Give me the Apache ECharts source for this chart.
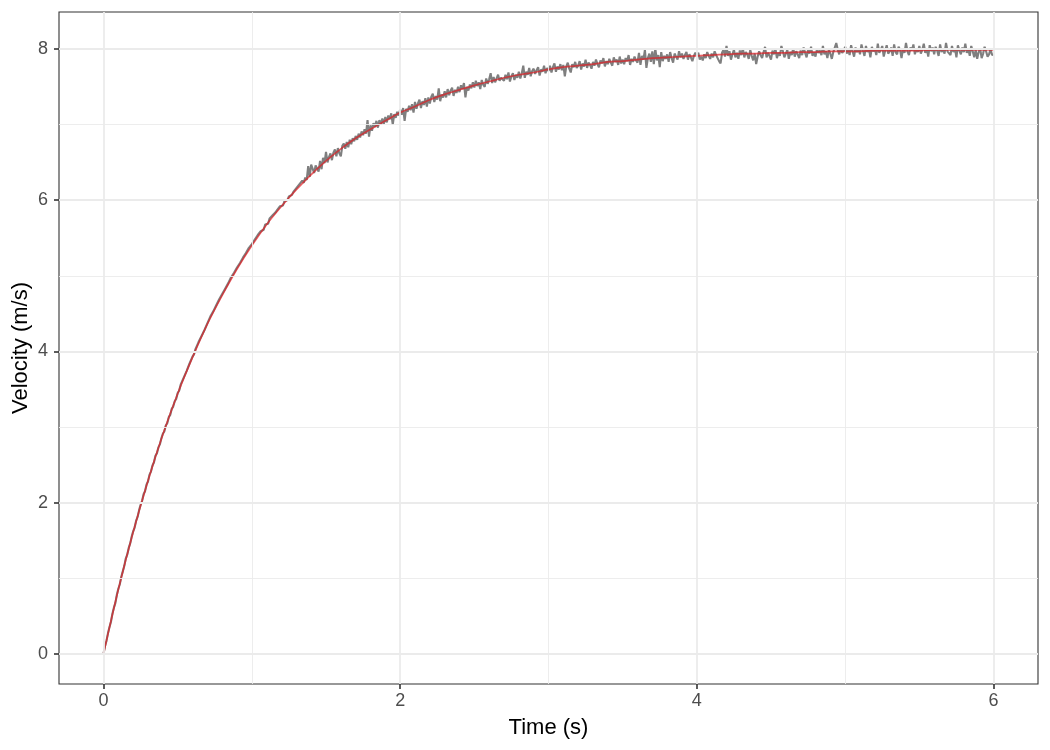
<!DOCTYPE html>
<html>
<head>
<meta charset="utf-8">
<title>Velocity</title>
<script src="https://cdn.jsdelivr.net/npm/echarts@6/dist/echarts.min.js"></script>
<style>
  html, body { margin: 0; padding: 0; background: #fff; }
  #chart { width: 1050px; height: 750px; }
</style>
</head>
<body>
<div id="chart"></div>
<script>
// axis ticks / grid
const xTicks = [0, 2, 4, 6]
const yTicks = [0, 2, 4, 6, 8]
const xMinor = [1, 3, 5]
const yMinor = [1, 3, 5, 7]

// measured velocity, one value every 0.01 s (one row = 0.1 s)
const rawStep = 0.01
const rawVelocity = [
  0.00, 0.10, 0.17, 0.27, 0.35, 0.42, 0.53, 0.61, 0.67, 0.78,
  0.86, 0.92, 1.02, 1.09, 1.16, 1.26, 1.31, 1.40, 1.46, 1.55,
  1.62, 1.67, 1.76, 1.81, 1.90, 1.97, 2.02, 2.11, 2.15, 2.24,
  2.28, 2.37, 2.41, 2.49, 2.53, 2.62, 2.65, 2.73, 2.77, 2.85,
  2.91, 2.94, 3.02, 3.05, 3.13, 3.16, 3.24, 3.27, 3.34, 3.37,
  3.45, 3.48, 3.56, 3.57, 3.65, 3.67, 3.74, 3.76, 3.84, 3.86,
  3.93, 3.96, 4.03, 4.04, 4.12, 4.13, 4.20, 4.21, 4.28, 4.30,
  4.37, 4.39, 4.46, 4.45, 4.53, 4.54, 4.61, 4.62, 4.69, 4.70,
  4.76, 4.77, 4.83, 4.84, 4.90, 4.91, 4.98, 4.97, 5.04, 5.05,
  5.11, 5.10, 5.17, 5.16, 5.24, 5.23, 5.30, 5.29, 5.37, 5.35,
  5.42, 5.41, 5.48, 5.46, 5.54, 5.52, 5.59, 5.60, 5.61, 5.68,
  5.70, 5.69, 5.76, 5.74, 5.80, 5.79, 5.84, 5.87, 5.86, 5.92,
  5.94, 5.93, 5.99, 6.00, 6.00, 6.05, 6.05, 6.07, 6.11, 6.11,
  6.16, 6.15, 6.21, 6.19, 6.26, 6.23, 6.30, 6.27, 6.45, 6.31,
  6.47, 6.49, 6.36, 6.46, 6.44, 6.38, 6.52, 6.41, 6.56, 6.49,
  6.64, 6.50, 6.57, 6.62, 6.53, 6.63, 6.67, 6.58, 6.69, 6.62,
  6.58, 6.72, 6.75, 6.68, 6.77, 6.70, 6.80, 6.74, 6.82, 6.78,
  6.85, 6.80, 6.88, 6.83, 6.91, 6.86, 6.94, 6.88, 7.06, 6.84,
  6.99, 6.92, 7.02, 6.97, 7.05, 6.96, 7.06, 7.00, 7.08, 7.01,
  7.10, 7.03, 7.12, 7.07, 7.15, 7.00, 7.14, 7.09, 7.17, 7.12,
  7.20, 7.13, 7.22, 7.05, 7.21, 7.17, 7.25, 7.19, 7.27, 7.16,
  7.30, 7.21, 7.28, 7.33, 7.22, 7.31, 7.26, 7.35, 7.24, 7.36,
  7.28, 7.37, 7.41, 7.30, 7.38, 7.33, 7.48, 7.31, 7.40, 7.36,
  7.44, 7.36, 7.47, 7.39, 7.45, 7.49, 7.38, 7.46, 7.42, 7.50,
  7.43, 7.52, 7.47, 7.55, 7.36, 7.50, 7.45, 7.53, 7.48, 7.56,
  7.49, 7.58, 7.51, 7.56, 7.47, 7.59, 7.53, 7.50, 7.61, 7.54,
  7.60, 7.68, 7.55, 7.63, 7.56, 7.54, 7.66, 7.58, 7.62, 7.64,
  7.58, 7.66, 7.60, 7.69, 7.57, 7.64, 7.68, 7.59, 7.66, 7.62,
  7.70, 7.61, 7.68, 7.78, 7.62, 7.70, 7.66, 7.75, 7.64, 7.71,
  7.74, 7.67, 7.72, 7.76, 7.65, 7.73, 7.70, 7.78, 7.68, 7.75,
  7.71, 7.78, 7.69, 7.76, 7.81, 7.70, 7.77, 7.73, 7.80, 7.72,
  7.79, 7.64, 7.77, 7.82, 7.74, 7.69, 7.80, 7.76, 7.83, 7.75,
  7.78, 7.84, 7.73, 7.81, 7.77, 7.86, 7.75, 7.82, 7.79, 7.74,
  7.83, 7.78, 7.86, 7.80, 7.76, 7.85, 7.81, 7.88, 7.77, 7.84,
  7.80, 7.87, 7.82, 7.78, 7.89, 7.83, 7.86, 7.79, 7.90, 7.81,
  7.86, 7.80, 7.88, 7.84, 7.92, 7.79, 7.87, 7.83, 7.90, 7.85,
  7.82, 7.95, 7.79, 7.91, 7.86, 7.99, 7.75, 7.88, 7.94, 7.83,
  7.97, 7.80, 8.01, 7.85, 7.92, 7.76, 7.96, 7.84, 7.91, 7.87,
  7.93, 7.83, 7.96, 7.88, 7.82, 7.94, 7.90, 7.86, 7.97, 7.89,
  7.94, 7.87, 7.92, 7.96, 7.86, 7.93, 7.89, 7.84, 7.91, 7.95,
  7.92, 7.95, 7.86, 7.90, 7.85, 7.93, 7.88, 7.96, 7.91, 7.87,
  7.94, 7.89, 7.97, 7.92, 7.88, 7.84, 7.81, 7.95, 7.99, 7.90,
  8.04, 7.91, 7.97, 7.86, 7.93, 7.99, 7.89, 7.95, 7.87, 7.98,
  7.92, 8.01, 7.89, 7.96, 7.93, 7.87, 7.99, 7.91, 7.85, 7.94,
  7.80, 7.90, 7.97, 7.92, 7.88, 7.96, 8.03, 7.89, 7.95, 7.91,
  7.86, 7.98, 7.93, 8.00, 7.88, 7.95, 7.91, 8.04, 7.97, 7.89,
  7.94, 7.99, 7.87, 7.96, 7.92, 8.01, 7.90, 7.97, 7.93, 7.88,
  7.98, 7.92, 8.02, 7.95, 7.89, 7.99, 7.94, 8.03, 7.91, 7.96,
  7.90, 8.00, 7.95, 7.98, 7.92, 8.04, 7.93, 7.97, 7.88, 7.99,
  7.94, 7.87, 7.96, 8.02, 8.08, 7.99, 7.93, 8.01, 7.95, 7.98,
  8.03, 7.94, 7.99, 7.92, 8.05, 7.97, 7.90, 8.02, 7.96, 8.00,
  7.93, 8.06, 7.98, 7.91, 8.04, 7.96, 8.01, 7.89, 8.03, 7.97,
  8.00, 7.92, 8.07, 7.95, 7.99, 8.04, 7.90, 7.98, 8.05, 7.94,
  7.97, 8.02, 7.91, 8.06, 7.96, 7.93, 8.03, 7.99, 7.88, 8.01,
  7.95, 8.08, 7.97, 7.92, 8.02, 7.98, 8.06, 7.93, 8.00, 7.96,
  8.04, 7.94, 7.99, 8.07, 7.95, 8.01, 7.90, 8.05, 7.97, 8.02,
  7.93, 8.03, 7.98, 7.91, 8.06, 7.96, 8.00, 7.94, 8.08, 7.97,
  7.99, 7.92, 8.04, 7.96, 8.01, 7.89, 8.05, 7.98, 7.93, 8.02,
  7.96, 8.07, 7.95, 8.00, 7.91, 8.04, 7.97, 7.89, 7.99, 7.87,
  7.96, 8.01, 7.88, 7.94, 8.03, 7.97, 7.90, 7.93, 8.00, 7.92,
  7.93
]

// fitted curve, one value every 0.1 s
const fitStep = 0.1
const fitVelocity = [
  0.00, 0.85, 1.61, 2.29, 2.90, 3.44, 3.92, 4.36, 4.74, 5.09,
  5.40, 5.68, 5.92, 6.14, 6.34, 6.52, 6.68, 6.82, 6.94, 7.05,
  7.16, 7.24, 7.33, 7.40, 7.46, 7.52, 7.57, 7.62, 7.66, 7.69,
  7.73, 7.76, 7.78, 7.80, 7.83, 7.84, 7.86, 7.88, 7.89, 7.90,
  7.91, 7.92, 7.93, 7.94, 7.94, 7.95, 7.95, 7.96, 7.96, 7.97,
  7.97, 7.97, 7.98, 7.98, 7.98, 7.98, 7.99, 7.99, 7.99, 7.99,
  7.99
]

const rawData = rawVelocity.map((v, i) => [+(i * rawStep).toFixed(2), v])
const fitData = fitVelocity.map((v, i) => [+(i * fitStep).toFixed(1), v])

const gridColor = '#ebebeb'
const gridLines = []
xTicks.forEach(v => gridLines.push({ xAxis: v, lineStyle: { color: gridColor, width: 1.8, type: 'solid' } }))
yTicks.forEach(v => gridLines.push({ yAxis: v, lineStyle: { color: gridColor, width: 1.8, type: 'solid' } }))
xMinor.forEach(v => gridLines.push({ xAxis: v, lineStyle: { color: gridColor, width: 0.9, type: 'solid' } }))
yMinor.forEach(v => gridLines.push({ yAxis: v, lineStyle: { color: gridColor, width: 0.9, type: 'solid' } }))

const font = '"Liberation Sans", Arial, Helvetica, sans-serif'

const chart = echarts.init(document.getElementById('chart'), null, { renderer: 'canvas' })
chart.setOption({
  animation: false,
  backgroundColor: '#fff',
  grid: {
    left: 59, right: 12, top: 12, bottom: 66,
    outerBoundsMode: 'none',
    containLabel: false,
    show: true,
    borderColor: '#333333',
    borderWidth: 1.1,
    backgroundColor: 'transparent'
  },
  xAxis: {
    type: 'value',
    min: -0.3,
    max: 6.3,
    name: 'Time (s)',
    nameLocation: 'middle',
    nameGap: 33,
    nameMoveOverlap: false,
    nameTextStyle: { fontFamily: font, fontSize: 22, color: '#000' },
    axisLine: { show: false, onZero: false },
    axisTick: { show: true, customValues: xTicks, length: 5, lineStyle: { color: '#333333', width: 1.6 } },
    axisLabel: { customValues: xTicks, margin: 8, fontFamily: font, fontSize: 18, color: '#4d4d4d' },
    splitLine: { show: false }
  },
  yAxis: {
    type: 'value',
    min: -0.4,
    max: 8.49,
    name: 'Velocity (m/s)',
    nameLocation: 'middle',
    nameGap: 27,
    nameMoveOverlap: false,
    nameTextStyle: { fontFamily: font, fontSize: 22, color: '#000' },
    axisLine: { show: false, onZero: false },
    axisTick: { show: true, customValues: yTicks, length: 5, lineStyle: { color: '#333333', width: 1.6 } },
    axisLabel: { customValues: yTicks, margin: 11, fontFamily: font, fontSize: 18, color: '#4d4d4d' },
    splitLine: { show: false }
  },
  series: [
    {
      name: 'grid',
      type: 'line',
      data: [],
      z: 1,
      silent: true,
      markLine: {
        silent: true,
        symbol: 'none',
        label: { show: false },
        animation: false,
        data: gridLines
      }
    },
    {
      name: 'measured',
      type: 'line',
      data: rawData,
      z: 3,
      showSymbol: false,
      lineStyle: { color: '#7f7f7f', width: 2.1 },
      silent: true
    },
    {
      name: 'fit',
      type: 'line',
      data: fitData,
      z: 4,
      smooth: 0.3,
      showSymbol: false,
      lineStyle: { color: 'rgba(222, 30, 36, 0.7)', width: 1.7 },
      silent: true
    }
  ]
})
</script>
</body>
</html>
